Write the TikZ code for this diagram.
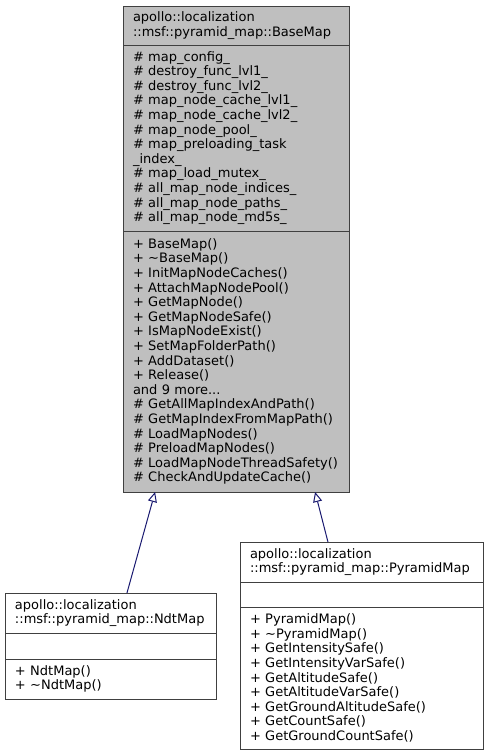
\documentclass[tikz,border=0pt]{standalone}
\usepackage{fontspec}
\setmainfont{DejaVu Sans}
\usetikzlibrary{arrows.meta}
\usetikzlibrary{positioning}
\usetikzlibrary{calc}
\definecolor{edgeblue}{HTML}{191970}
\definecolor{boxgray}{HTML}{BFBFBF}
\definecolor{boxline}{HTML}{404040}
\tikzset{
    classpart/.style={draw=boxline, line width=1pt, outer sep=0pt, inner xsep=10pt, inner ysep=0pt,
        align=left, font=\fontsize{13pt}{14.6pt}\selectfont},
    basepart/.style={classpart, fill=boxgray, text width=206pt},
    ndtpart/.style={classpart, fill=white, text width=191pt},
    pyrpart/.style={classpart, fill=white, text width=223pt},
    inherit/.style={draw=edgeblue, line width=1pt,
        -{Triangle[length=10pt,width=9pt,fill=white]}},
}
\begin{document}
\begin{tikzpicture}[x=1pt, y=-1pt]
		\useasboundingbox (0,0) rectangle (488,756);
		\node[basepart, minimum height=39pt] (basetitle) at (236,25.5) {apollo::localization\\::msf::pyramid\_map::BaseMap};
		\node[basepart, minimum height=186pt, below=0pt of basetitle] (baseattr) {\# map\_config\_\\\# destroy\_func\_lvl1\_\\\# destroy\_func\_lvl2\_\\\# map\_node\_cache\_lvl1\_\\\# map\_node\_cache\_lvl2\_\\\# map\_node\_pool\_\\\# map\_preloading\_task\\\_index\_\\\# map\_load\_mutex\_\\\# all\_map\_node\_indices\_\\\# all\_map\_node\_paths\_\\\# all\_map\_node\_md5s\_};
		\node[basepart, minimum height=261pt, below=0pt of baseattr] (basemeth) {+ BaseMap()\\+ \textasciitilde BaseMap()\\+ InitMapNodeCaches()\\+ AttachMapNodePool()\\+ GetMapNode()\\+ GetMapNodeSafe()\\+ IsMapNodeExist()\\+ SetMapFolderPath()\\+ AddDataset()\\+ Release()\\and 9 more...\\\# GetAllMapIndexAndPath()\\\# GetMapIndexFromMapPath()\\\# LoadMapNodes()\\\# PreloadMapNodes()\\\# LoadMapNodeThreadSafety()\\\# CheckAndUpdateCache()};
		
		\node[ndtpart, minimum height=40pt] (ndttitle) at (110.5,613) {apollo::localization\\::msf::pyramid\_map::NdtMap};
		\node[ndtpart, minimum height=26pt, below=0pt of ndttitle] (ndtattr) {};
		\node[ndtpart, minimum height=40pt, below=0pt of ndtattr] (ndtmeth) {+ NdtMap()\\+ \textasciitilde NdtMap()};
		
		\node[pyrpart, minimum height=40pt] (pyrtitle) at (361.5,562) {apollo::localization\\::msf::pyramid\_map::PyramidMap};
		\node[pyrpart, minimum height=25pt, below=0pt of pyrtitle] (pyrattr) {};
		\node[pyrpart, minimum height=142pt, below=0pt of pyrattr] (pyrmeth) {+ PyramidMap()\\+ \textasciitilde PyramidMap()\\+ GetIntensitySafe()\\+ GetIntensityVarSafe()\\+ GetAltitudeSafe()\\+ GetAltitudeVarSafe()\\+ GetGroundAltitudeSafe()\\+ GetCountSafe()\\+ GetGroundCountSafe()};
		
		\draw[inherit] ($(ndttitle.north west)!0.578!(ndttitle.north east)$) -- ($(basemeth.south west)!0.142!(basemeth.south east)$);
		\draw[inherit] ($(pyrtitle.north west)!0.362!(pyrtitle.north east)$) -- ($(basemeth.south west)!0.850!(basemeth.south east)$);
\end{tikzpicture}
\end{document}
